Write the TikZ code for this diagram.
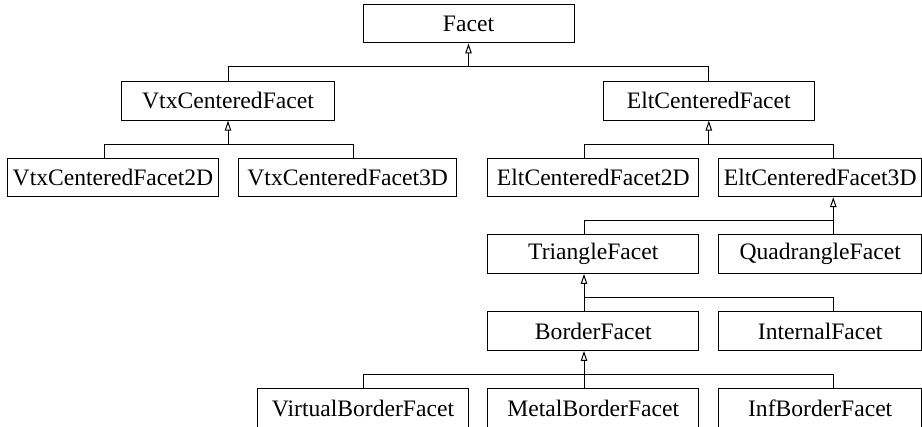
\documentclass[tikz,border=0pt]{standalone}
\usepackage{fontspec}
\setmainfont{Liberation Serif}
\usetikzlibrary{arrows.meta}
\begin{document}
\begin{tikzpicture}[x=1pt,y=-1pt,
  cls/.style={draw, rectangle, inner sep=0pt, line width=1pt,
    font=\fontsize{23.6}{27}\selectfont, minimum height=38.5pt},
  conn/.style={line width=1pt},
  inh/.style={line width=1pt, -{Triangle[open, length=10pt, width=6.5pt, line width=1pt]}}]
\clip (0,0) rectangle (922,427);
\fill[white] (0,0) rectangle (922,427);
% column coordinates
\coordinate (xa) at (104.3,0);
\coordinate (xb) at (353.3,0);
\coordinate (xc) at (584,0);
\coordinate (xd) at (833.3,0);
\coordinate (xe) at (363.3,0);
% bus levels
\coordinate (y1) at (0,66.7);
\coordinate (y2) at (0,144.3);
\coordinate (y3) at (0,220.7);
\coordinate (y4) at (0,297.7);
\coordinate (y5) at (0,374.3);
% nodes
\node[cls, minimum width=211pt] (facet) at (468.5,23.7) {Facet};
\node[cls, minimum width=212.6pt] (vtx) at (228,100.9) {VtxCenteredFacet};
\node[cls, minimum width=211pt] (elt) at (708.8,100.9) {EltCenteredFacet};
\node[cls, minimum width=211.4pt] (vtx2) at (113,177.5) {VtxCenteredFacet2D};
\node[cls, minimum width=218pt] (vtx3) at (347.7,177.5) {VtxCenteredFacet3D};
\node[cls, minimum width=211.3pt] (elt2) at (593.3,177.5) {EltCenteredFacet2D};
\node[cls, minimum width=203pt] (elt3) at (820.2,177.5) {EltCenteredFacet3D};
\node[cls, minimum width=211.3pt] (tri) at (593.3,254.2) {TriangleFacet};
\node[cls, minimum width=203pt] (quad) at (820.2,254.2) {QuadrangleFacet};
\node[cls, minimum width=211.3pt] (border) at (593.3,331.2) {BorderFacet};
\node[cls, minimum width=203pt] (internal) at (820.2,331.2) {InternalFacet};
\node[cls, minimum width=211.4pt, minimum height=40pt] (virtual) at (363,409) {\raisebox{1.5pt}{VirtualBorderFacet}};
\node[cls, minimum width=211.3pt, minimum height=40pt] (metal) at (593.3,409) {\raisebox{1.5pt}{MetalBorderFacet}};
\node[cls, minimum width=203pt, minimum height=40pt] (inf) at (820.2,409) {\raisebox{1.5pt}{InfBorderFacet}};
% Facet children
\draw[conn] (vtx.north) -- (vtx.north |- y1) -- (elt.north |- y1) -- (elt.north);
\draw[inh] (facet.south |- y1) -- (facet.south);
% VtxCenteredFacet children
\draw[conn] (vtx2.north -| xa) -- (xa |- y2) -- (xb |- y2) -- (vtx3.north -| xb);
\draw[inh] (vtx.south |- y2) -- (vtx.south);
% EltCenteredFacet children
\draw[conn] (elt2.north -| xc) -- (xc |- y2) -- (xd |- y2) -- (elt3.north -| xd);
\draw[inh] (elt.south |- y2) -- (elt.south);
% EltCenteredFacet3D children
\draw[conn] (tri.north -| xc) -- (xc |- y3) -- (xd |- y3) -- (quad.north -| xd);
\draw[inh] (xd |- y3) -- (elt3.south -| xd);
% TriangleFacet children
\draw[conn] (border.north -| xc) -- (xc |- y4) -- (xd |- y4) -- (internal.north -| xd);
\draw[inh] (xc |- y4) -- (tri.south -| xc);
% BorderFacet children
\draw[conn] (virtual.north -| xe) -- (xe |- y5) -- (xd |- y5) -- (inf.north -| xd);
\draw[conn] (metal.north -| xc) -- (xc |- y5);
\draw[inh] (xc |- y5) -- (border.south -| xc);
\end{tikzpicture}
\end{document}
